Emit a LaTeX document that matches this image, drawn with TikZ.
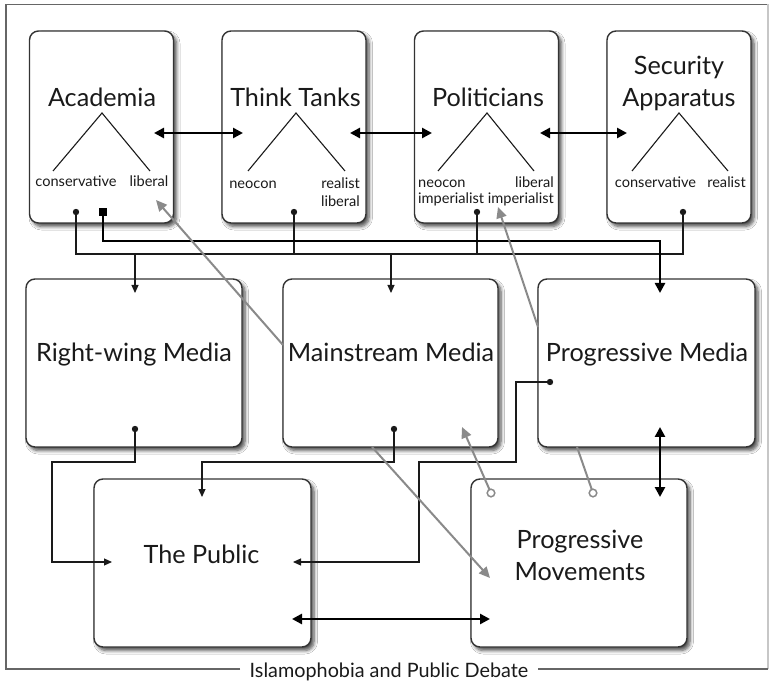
\documentclass[tikz,border=0pt]{standalone}
\usepackage{fontspec}
\setmainfont{Lato}
\usetikzlibrary{arrows.meta,shadows.blur}
\definecolor{ink}{HTML}{1A1A1A}
\definecolor{boxline}{HTML}{333333}
\definecolor{grayline}{HTML}{8A8A8A}
\definecolor{framec}{HTML}{666666}
\begin{document}
\begin{tikzpicture}[x=1pt,y=-1pt,
  box/.style={draw=boxline, line width=1.4pt, rounded corners=9pt, fill=white, inner sep=0pt,
    blur shadow={shadow xshift=3pt, shadow yshift=-3.5pt, shadow blur radius=3.5pt, shadow blur steps=6, shadow opacity=70}},
  ttl/.style={anchor=base, text=ink, inner sep=0pt, font=\fontsize{25.2}{28}\selectfont},
  sub/.style={anchor=base, text=ink, inner sep=0pt, font=\fontsize{14.6}{16}\selectfont},
  vee/.style={draw=ink, line width=1.1pt},
  thinln/.style={draw=ink, line width=1.2pt},
  thinarr/.style={thinln, -{Triangle[length=8pt,width=7pt]}},
  thickln/.style={draw=black, line width=2.7pt},
  dblarr/.style={thickln, {Triangle[length=10pt,width=10pt]}-{Triangle[length=10pt,width=10pt]}},
  grayarr/.style={draw=grayline, line width=2pt, -{Triangle[length=11pt,width=10pt]}},
  grayln/.style={draw=grayline, line width=2pt},
  ring/.style={draw=grayline, line width=1.5pt, fill=white},
  framel/.style={draw=framec, line width=1.2pt}
]
\useasboundingbox (0,0) rectangle (774,684);
\fill[white] (0,0) rectangle (774,684);

% outer frame
\draw[framel] (240,669) -- (6,669) -- (6,4.5) -- (768,4.5);
\draw[framel, draw=black!22] (768,4.5) -- (768,669);
\draw[framel] (768,669) -- (538,669);
\node[anchor=base, text=ink, inner sep=0pt, font=\fontsize{19.8}{22}\selectfont] (foot) at (389,677.5) {Islamophobia and Public Debate};

% boxes
\node[box, minimum width=144, minimum height=192] (acad) at (101.5,127) {};
\node[box, minimum width=144, minimum height=192] (tt) at (294,127) {};
\node[box, minimum width=144, minimum height=192] (pol) at (486.5,127) {};
\node[box, minimum width=144, minimum height=192] (sec) at (679,127) {};
\node[box, minimum width=216, minimum height=168] (rw) at (134,363) {};
\node[box, minimum width=215, minimum height=168] (ms) at (390.5,363) {};
\node[box, minimum width=217, minimum height=168] (pm) at (646.5,363) {};
\node[box, minimum width=217, minimum height=168] (pub) at (202.5,563) {};
\node[box, minimum width=216, minimum height=168] (mov) at (579,563) {};

% titles
\node[ttl] (acadT) at (102,107) {Academia};
\node[ttl] (ttT) at (295.5,107) {Think Tanks};
\node[ttl] (polT) at (488,107) {Politicians};
\node[ttl] (secT1) at (679,75) {Security};
\node[ttl] (secT2) at (679,107) {Apparatus};
\node[ttl] (rwT) at (134,362) {Right-wing Media};
\node[ttl] (msT) at (391,362) {Mainstream Media};
\node[ttl] (pmT) at (647,362) {Progressive Media};
\node[ttl] (pubT) at (201.5,563) {The Public};
\node[ttl] (movT1) at (580,548) {Progressive};
\node[ttl] (movT2) at (580,580) {Movements};

% branching vees
\draw[vee] (53,171) -- (102,113) -- (150,171);
\draw[vee] (248,171) -- (296,113) -- (345,171);
\draw[vee] (438,171) -- (487,113) -- (534,171);
\draw[vee] (632,171) -- (679,113) -- (728,171);

% sub labels
\node[sub] (acadC) at (76,187) {conservative};
\node[sub] (acadL) at (149,187) {liberal};
\node[sub] (ttN) at (253,189) {neocon};
\node[sub, anchor=base east] (ttR) at (360,189) {realist};
\node[sub, anchor=base east] (ttL) at (360,207) {liberal};
\node[sub, anchor=base west] (polN) at (418,188) {neocon};
\node[sub, anchor=base west] (polNi) at (418,204) {imperialist};
\node[sub, anchor=base east] (polL) at (554,188) {liberal};
\node[sub, anchor=base east] (polLi) at (554,204) {imperialist};
\node[sub] (secC) at (655.5,188) {conservative};
\node[sub] (secR) at (726.5,188) {realist};

% anchor points
\coordinate (aDot) at (76,212);
\coordinate (aSq) at (103,212);
\coordinate (tDot) at (294,212);
\coordinate (pDot) at (477,212);
\coordinate (sDot) at (683,212);
\coordinate (busRW) at (135,254);
\coordinate (busMS) at (391,254);
\coordinate (rwIn) at (135,293);
\coordinate (msIn) at (391,293);
\coordinate (pmIn) at (660,293);
\coordinate (rwDot) at (135,429);
\coordinate (msDot) at (394,429);
\coordinate (pmDot) at (550,382);
\coordinate (pubTop) at (202,497);
\coordinate (pubL) at (112,562);
\coordinate (pubR) at (293,562);
\coordinate (pubB) at (292,619);
\coordinate (movB) at (490,619);
\coordinate (pmB) at (660,427);
\coordinate (movTop) at (660,497);

% thin bus from top row
\draw[thinln] (aDot) -- (76,254) -| (sDot);
\draw[thinln] (tDot) -- (294,254);
\draw[thinln] (pDot) -- (477,254);
\draw[thinarr] (busRW) -- (rwIn);
\draw[thinarr] (busMS) -- (msIn);

% thick from academia square to progressive media
\draw[thickln, -{Triangle[length=10pt,width=10pt]}] (aSq) -- (103,241) -| (pmIn);

% top row double arrows
\draw[dblarr] (154,133) -- (243,133);
\draw[dblarr] (350,133) -- (432,133);
\draw[dblarr] (540,133) -- (627,133);

% media to public
\draw[thinarr] (rwDot) -- (135,462) -- (52,462) |- (pubL);
\draw[thinarr] (msDot) -- (394,462) -| (pubTop);
\draw[thinarr] (pmDot) -- (516,382) -- (516,462) -- (419,462) |- (pubR);

% thick doubles bottom
\draw[dblarr] (pubB) -- (movB);
\draw[dblarr] (pmB) -- (movTop);

% gray influences
\draw[grayarr] (283,345) -- (156,200);
\draw[grayarr] (538,327) -- (498,207);
\draw[grayarr] (372,447) -- (490,578);
\draw[grayarr] (491,493) -- (462,427);
\draw[grayln] (593,493) -- (577,447);
\draw[ring] (491,493) circle (3.8pt);
\draw[ring] (593,493) circle (3.8pt);

% dots and square
\fill[ink] (aDot) circle (3.2pt);
\fill[ink] (tDot) circle (3.2pt);
\fill[ink] (pDot) circle (3.2pt);
\fill[ink] (sDot) circle (3.2pt);
\fill[ink] (rwDot) circle (3.2pt);
\fill[ink] (msDot) circle (3.2pt);
\fill[ink] (pmDot) circle (3.2pt);
\fill[black] (99,208) rectangle (107,216);
\end{tikzpicture}
\end{document}
